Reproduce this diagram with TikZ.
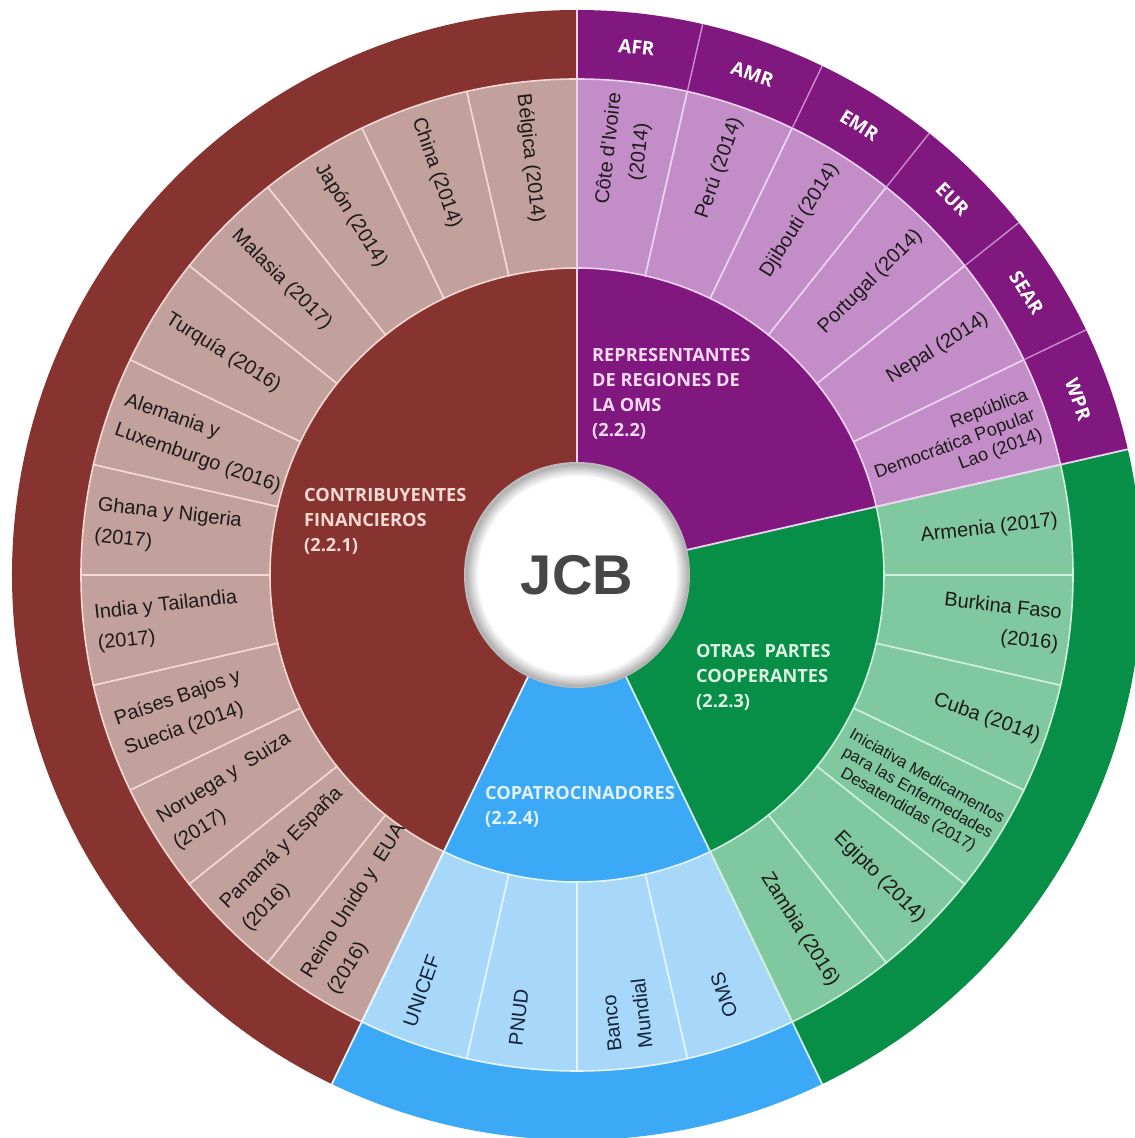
\documentclass[tikz,border=0pt]{standalone}
\usepackage{fontspec}
\setmainfont{Liberation Sans}
\newfontfamily\titlefont{Open Sans}
\definecolor{marD}{HTML}{873431}
\definecolor{marL}{HTML}{C2A09C}
\definecolor{marLn}{HTML}{F3D8D3}
\definecolor{purD}{HTML}{80187F}
\definecolor{purL}{HTML}{C38EC8}
\definecolor{purLn}{HTML}{EDD3F0}
\definecolor{purTab}{HTML}{C88ECD}
\definecolor{grnD}{HTML}{078E47}
\definecolor{grnL}{HTML}{80C8A0}
\definecolor{grnLn}{HTML}{CDEFDB}
\definecolor{bluD}{HTML}{3BA9F5}
\definecolor{bluL}{HTML}{A7D8FA}
\definecolor{bluLn}{HTML}{E6F4FF}
\definecolor{marT}{HTML}{F7DAD4}
\definecolor{purT}{HTML}{F5DAF0}
\definecolor{grnT}{HTML}{DDF3E3}
\definecolor{bluT}{HTML}{E2F2FF}
\definecolor{labK}{HTML}{1E1A1A}
\definecolor{labB}{HTML}{16233A}
\definecolor{jcbK}{HTML}{464646}
\pgfdeclareradialshading{jcbglow}{\pgfpoint{0bp}{0bp}}{color(0bp)=(white); color(21.8bp)=(white); color(23.4bp)=(gray!35); color(24.5bp)=(gray!62); color(25bp)=(gray!50); color(50bp)=(gray!50)}
\newcommand\ringseg[4]{%
  \filldraw[fill=#1, draw=#2, line width=1.6pt] (#3:307pt) arc[start angle=#3, end angle=#4, radius=307pt] -- (#4:496pt) arc[start angle=#4, end angle=#3, radius=496pt] -- cycle;}
\tikzset{
  seglab/.style={font=\fontsize{20}{31}\selectfont, text=labK, inner sep=0pt},
  ttl/.style={font=\titlefont\bfseries\fontsize{18.2}{25}\selectfont, inner sep=0pt, align=left, anchor=north west},
  tablab/.style={font=\titlefont\bfseries\fontsize{19}{22}\selectfont, text=white, inner sep=0pt},
  sepline/.style={line width=1.8pt},
}
\begin{document}
\begin{tikzpicture}[x=1pt,y=1pt]
\pgfmathsetmacro\st{360/28}
\useasboundingbox (-577pt,-563pt) rectangle (558pt,575pt);
\clip (-577pt,-563pt) rectangle (558pt,575pt);
\fill[white] (-577pt,-563pt) rectangle (558pt,575pt);
% main sectors
\fill[marD] (0,0) -- (90:565pt) arc[start angle=90, end angle=244.2857, radius=565pt] -- cycle;
\fill[purD] (0,0) -- (90:565pt) arc[start angle=90, end angle=12.8571, radius=565pt] -- cycle;
\fill[grnD] (0,0) -- (12.8571:565pt) arc[start angle=12.8571, end angle=-64.2857, radius=565pt] -- cycle;
\fill[bluD] (0,0) -- (-64.2857:565pt) arc[start angle=-64.2857, end angle=-115.7143, radius=565pt] -- cycle;
% middle ring segments
\foreach \i in {0,...,11}{\pgfmathsetmacro\a{90+\i*\st}\pgfmathsetmacro\b{90+(\i+1)*\st}\ringseg{marL}{marLn}{\a}{\b}}
\foreach \i in {0,...,5}{\pgfmathsetmacro\a{90-\i*\st}\pgfmathsetmacro\b{90-(\i+1)*\st}\ringseg{purL}{purLn}{\a}{\b}}
\foreach \i in {0,...,5}{\pgfmathsetmacro\a{\st-\i*\st}\pgfmathsetmacro\b{\st-(\i+1)*\st}\ringseg{grnL}{grnLn}{\a}{\b}}
\foreach \i in {0,...,3}{\pgfmathsetmacro\a{-5*\st-\i*\st}\pgfmathsetmacro\b{-5*\st-(\i+1)*\st}\ringseg{bluL}{bluLn}{\a}{\b}}
% tab dividers in purple outer band
\foreach \i in {1,...,5}{\draw[purTab, line width=1.4pt] ({90-\i*\st}:496pt) -- ({90-\i*\st}:565pt);}
% main boundaries
\draw[sepline, color=purLn] (90:100pt) -- (90:565pt);
\draw[sepline, color=purLn] (12.8571:100pt) -- (12.8571:565pt);
\draw[sepline, color=grnLn] (-64.2857:100pt) -- (-64.2857:565pt);
\draw[sepline, color=bluLn] (244.2857:100pt) -- (244.2857:565pt);
% centre
\shade[shading=jcbglow] (0,0) circle[radius=113pt];
\node[font=\fontsize{56}{56}\selectfont\bfseries, text=jcbK] (jcb) at (0,0) {JCB};
% titles
\node[ttl, text=marT] (t1) at (-273pt, 86.5pt) {CONTRIBUYENTES\\FINANCIEROS\\(2.2.1)};
\node[ttl, text=purT] (t2) at (15pt, 227pt) {REPRESENTANTES\\DE REGIONES DE\\LA OMS\\(2.2.2)};
\node[ttl, text=grnT] (t3) at (119pt, -69pt) {OTRAS\ \ PARTES\\COOPERANTES\\(2.2.3)};
\node[ttl, text=bluT] (t4) at (-92pt, -211pt) {COPATROCINADORES\\(2.2.4)};
% maroon labels
\node[seglab, anchor=west, align=left, rotate=-83.57] (m1) at (96.43:484pt) {Bélgica (2014)};
\node[seglab, anchor=west, align=left, rotate=-70.71] (m2) at (109.29:484pt) {China (2014)};
\node[seglab, anchor=west, align=left, rotate=-57.86] (m3) at (122.14:484pt) {Japón (2014)};
\node[seglab, anchor=west, align=left, rotate=-45] (m4) at (135:484pt) {Malasia (2017)};
\node[seglab, anchor=west, align=left, rotate=-32.14] (m5) at (147.86:484pt) {Turquía (2016)};
\node[seglab, anchor=west, align=left, rotate=-19.29] (m6) at (160.71:484pt) {Alemania y\\Luxemburgo (2016)};
\node[seglab, anchor=west, align=left, rotate=-6.43] (m7) at (173.57:484pt) {Ghana y Nigeria\\(2017)};
\node[seglab, anchor=west, align=left, rotate=6.43] (m8) at (186.43:484pt) {India y Tailandia\\(2017)};
\node[seglab, anchor=west, align=left, rotate=19.29] (m9) at (199.29:484pt) {Países Bajos y\\Suecia (2014)};
\node[seglab, anchor=west, align=left, rotate=32.14] (m10) at (212.14:484pt) {Noruega y\ \ Suiza\\(2017)};
\node[seglab, anchor=west, align=left, rotate=45] (m11) at (225:484pt) {Panamá y España\\(2016)};
\node[seglab, anchor=west, align=left, rotate=57.86] (m12) at (237.86:484pt) {Reino Unido y\ \ EUA\\(2016)};
% purple labels
\node[seglab, anchor=east, align=center, rotate=83.57] (p1) at (83.57:484pt) {Côte d'Ivoire\\(2014)};
\node[seglab, anchor=east, align=right, rotate=70.71] (p2) at (70.71:484pt) {Perú (2014)};
\node[seglab, anchor=east, align=right, rotate=57.86] (p3) at (57.86:484pt) {Djibouti (2014)};
\node[seglab, anchor=east, align=right, rotate=45] (p4) at (45:484pt) {Portugal (2014)};
\node[seglab, anchor=east, align=right, rotate=32.14] (p5) at (32.14:484pt) {Nepal (2014)};
\node[seglab, anchor=east, align=right, rotate=20.5, font=\fontsize{18.2}{21}\selectfont] (p6) at (19.29:485pt) {República\\Democrática Popular\\Lao (2014)};
% tabs
\node[tablab, rotate=-6.43] (r1) at (83.57:531pt) {AFR};
\node[tablab, rotate=-19.29] (r2) at (70.71:531pt) {AMR};
\node[tablab, rotate=-32.14] (r3) at (57.86:531pt) {EMR};
\node[tablab, rotate=-45] (r4) at (45:531pt) {EUR};
\node[tablab, rotate=-57.86] (r5) at (32.14:531pt) {SEAR};
\node[tablab, rotate=-70.71] (r6) at (19.29:531pt) {WPR};
% green labels
\node[seglab, anchor=east, align=right, rotate=6.43] (g1) at (6.43:484pt) {Armenia (2017)};
\node[seglab, anchor=east, align=right, rotate=-6.43] (g2) at (-6.43:486pt) {Burkina Faso\\(2016)};
\node[seglab, anchor=east, align=right, rotate=-19.29] (g3) at (-19.29:490pt) {Cuba (2014)};
\node[seglab, anchor=east, align=center, rotate=-29.5, font=\fontsize{16.4}{19}\selectfont] (g4) at (-32.14:492pt) {Iniciativa Medicamentos\\para las Enfermedades\\Desatendidas (2017)};
\node[seglab, anchor=east, align=right, rotate=-45] (g5) at (-45:488pt) {Egipto (2014)};
\node[seglab, anchor=east, align=right, rotate=-57.86] (g6) at (-57.86:484pt) {Zambia (2016)};
% blue labels
\node[seglab, text=labB, rotate=70.71] (b1) at (-110.5:444pt) {UNICEF};
\node[seglab, text=labB, rotate=83.57] (b2) at (-97.5:446pt) {PNUD};
\node[seglab, text=labB, align=left, rotate=96.43] (b3) at (-83.57:443pt) {Banco\\Mundial};
\node[seglab, text=labB, rotate=109.29] (b4) at (-70.71:445pt) {OMS};
\end{tikzpicture}
\end{document}
